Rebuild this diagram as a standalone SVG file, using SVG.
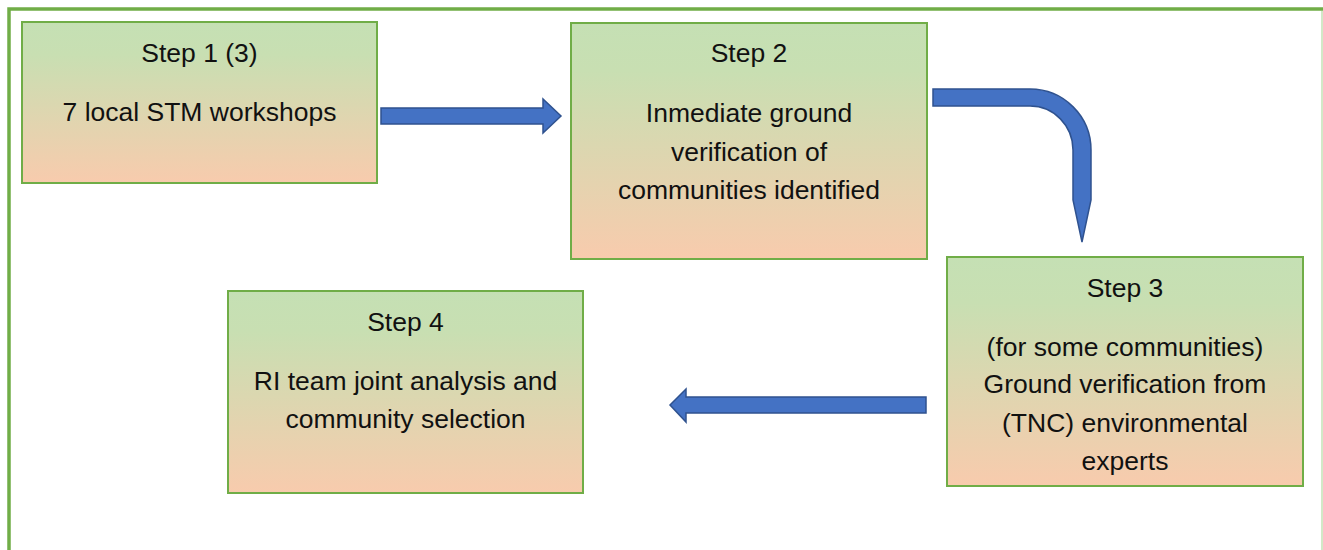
<svg xmlns="http://www.w3.org/2000/svg" width="1323" height="550" viewBox="0 0 1323 550">
<defs>
<linearGradient id="g" x1="0" y1="0" x2="0" y2="1">
<stop offset="0" stop-color="#C5E0B4"/>
<stop offset="0.2" stop-color="#C8DFB2"/>
<stop offset="1" stop-color="#F8CBAD"/>
</linearGradient>
</defs>
<style>
.box{fill:url(#g);stroke:#70AD47;stroke-width:2}
.t{font-family:"Liberation Sans",Arial,sans-serif;font-size:26.5px;fill:#111;text-anchor:middle}
.arr{fill:#4472C4;stroke:#2F528F;stroke-width:1.5;stroke-linejoin:miter}
</style>
<rect width="1323" height="550" fill="#fff"/>
<path d="M9,550 V9 H1323" fill="none" stroke="#70AD47" stroke-width="3.5"/>
<line x1="1322" y1="11" x2="1322" y2="550" stroke="#C5E0B4" stroke-width="1.5"/>
<g id="step1">
<rect class="box" x="22" y="22" width="355" height="161"/>
<text class="t" x="199.5" y="62">Step 1 (3)</text>
<text class="t" x="199.5" y="121">7 local STM workshops</text>
</g>
<g id="step2">
<rect class="box" x="571" y="23" width="356" height="236"/>
<text class="t" x="749" y="62">Step 2</text>
<text class="t" x="749" y="122">Inmediate ground</text>
<text class="t" x="749" y="161">verification of</text>
<text class="t" x="749" y="199">communities identified</text>
</g>
<g id="step3">
<rect class="box" x="947" y="257" width="356" height="229"/>
<text class="t" x="1125" y="297">Step 3</text>
<text class="t" x="1125" y="356">(for some communities)</text>
<text class="t" x="1125" y="393">Ground verification from</text>
<text class="t" x="1125" y="432">(TNC) environmental</text>
<text class="t" x="1125" y="470">experts</text>
</g>
<g id="step4">
<rect class="box" x="228" y="291" width="355" height="202"/>
<text class="t" x="405.5" y="331">Step 4</text>
<text class="t" x="405.5" y="390">RI team joint analysis and</text>
<text class="t" x="405.5" y="428">community selection</text>
</g>
<g id="connectors">
<path class="arr" d="M381,108 H543 V99 L561,116 L543,133 V124 H381 Z"/>
<path class="arr" d="M933,89 H1030 A61,61 0 0 1 1091,150 V200 L1082,242 L1073,200 V150 A43,44 0 0 0 1030,106 H933 Z"/>
<path class="arr" d="M926,397 H686 V389 L670,405 L686,422 V413 H926 Z"/>
</g>
</svg>
